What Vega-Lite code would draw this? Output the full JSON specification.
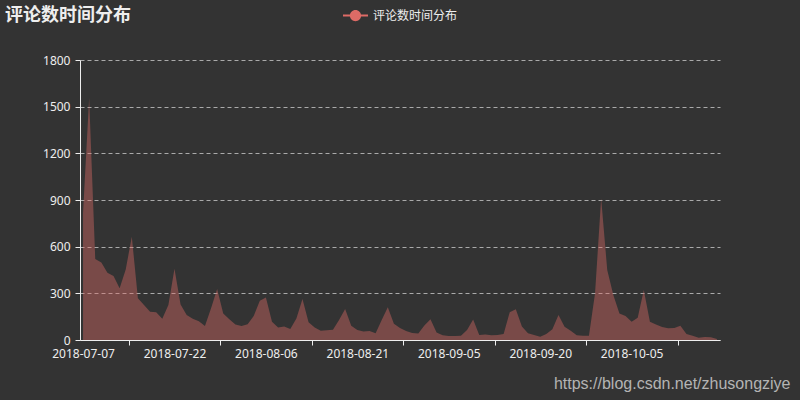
{
  "$schema": "https://vega.github.io/schema/vega-lite/v6.json",
  "width": 640,
  "height": 280,
  "autosize": "none",
  "padding": {"left": 80, "top": 60, "right": 80, "bottom": 60},
  "background": "#333333",
  "title": {
    "text": "评论数时间分布",
    "anchor": "start",
    "frame": "group",
    "dx": -75,
    "dy": 26,
    "fontSize": 18,
    "fontWeight": "bold",
    "color": "#eeeeee",
    "font": "Noto Sans CJK SC"
  },
  "data": {
    "values": [
      {"date": "2018-07-07", "count": 820}, {"date": "2018-07-08", "count": 1555}, {"date": "2018-07-09", "count": 521}, {"date": "2018-07-10", "count": 499}, {"date": "2018-07-11", "count": 433}, {"date": "2018-07-12", "count": 411}, {"date": "2018-07-13", "count": 332}, {"date": "2018-07-14", "count": 454}, {"date": "2018-07-15", "count": 664}, {"date": "2018-07-16", "count": 268}, {"date": "2018-07-17", "count": 225}, {"date": "2018-07-18", "count": 182}, {"date": "2018-07-19", "count": 178}, {"date": "2018-07-20", "count": 137}, {"date": "2018-07-21", "count": 225}, {"date": "2018-07-22", "count": 458}, {"date": "2018-07-23", "count": 229}, {"date": "2018-07-24", "count": 161}, {"date": "2018-07-25", "count": 137}, {"date": "2018-07-26", "count": 120}, {"date": "2018-07-27", "count": 90}, {"date": "2018-07-28", "count": 204}, {"date": "2018-07-29", "count": 328}, {"date": "2018-07-30", "count": 171}, {"date": "2018-07-31", "count": 133},
      {"date": "2018-08-01", "count": 100}, {"date": "2018-08-02", "count": 90}, {"date": "2018-08-03", "count": 101}, {"date": "2018-08-04", "count": 154}, {"date": "2018-08-05", "count": 253}, {"date": "2018-08-06", "count": 274}, {"date": "2018-08-07", "count": 118}, {"date": "2018-08-08", "count": 81}, {"date": "2018-08-09", "count": 86}, {"date": "2018-08-10", "count": 71}, {"date": "2018-08-11", "count": 139}, {"date": "2018-08-12", "count": 264}, {"date": "2018-08-13", "count": 114}, {"date": "2018-08-14", "count": 81}, {"date": "2018-08-15", "count": 60}, {"date": "2018-08-16", "count": 62}, {"date": "2018-08-17", "count": 66}, {"date": "2018-08-18", "count": 129}, {"date": "2018-08-19", "count": 199}, {"date": "2018-08-20", "count": 92}, {"date": "2018-08-21", "count": 64}, {"date": "2018-08-22", "count": 54}, {"date": "2018-08-23", "count": 58}, {"date": "2018-08-24", "count": 43}, {"date": "2018-08-25", "count": 129}, {"date": "2018-08-26", "count": 210}, {"date": "2018-08-27", "count": 105}, {"date": "2018-08-28", "count": 77}, {"date": "2018-08-29", "count": 58}, {"date": "2018-08-30", "count": 45}, {"date": "2018-08-31", "count": 41},
      {"date": "2018-09-01", "count": 94}, {"date": "2018-09-02", "count": 133}, {"date": "2018-09-03", "count": 49}, {"date": "2018-09-04", "count": 30}, {"date": "2018-09-05", "count": 26}, {"date": "2018-09-06", "count": 26}, {"date": "2018-09-07", "count": 28}, {"date": "2018-09-08", "count": 64}, {"date": "2018-09-09", "count": 131}, {"date": "2018-09-10", "count": 32}, {"date": "2018-09-11", "count": 36}, {"date": "2018-09-12", "count": 30}, {"date": "2018-09-13", "count": 32}, {"date": "2018-09-14", "count": 39}, {"date": "2018-09-15", "count": 178}, {"date": "2018-09-16", "count": 197}, {"date": "2018-09-17", "count": 86}, {"date": "2018-09-18", "count": 43}, {"date": "2018-09-19", "count": 32}, {"date": "2018-09-20", "count": 21}, {"date": "2018-09-21", "count": 39}, {"date": "2018-09-22", "count": 69}, {"date": "2018-09-23", "count": 160}, {"date": "2018-09-24", "count": 85}, {"date": "2018-09-25", "count": 59}, {"date": "2018-09-26", "count": 31}, {"date": "2018-09-27", "count": 27}, {"date": "2018-09-28", "count": 27}, {"date": "2018-09-29", "count": 300}, {"date": "2018-09-30", "count": 911},
      {"date": "2018-10-01", "count": 450}, {"date": "2018-10-02", "count": 289}, {"date": "2018-10-03", "count": 171}, {"date": "2018-10-04", "count": 154}, {"date": "2018-10-05", "count": 118}, {"date": "2018-10-06", "count": 143}, {"date": "2018-10-07", "count": 321}, {"date": "2018-10-08", "count": 118}, {"date": "2018-10-09", "count": 99}, {"date": "2018-10-10", "count": 84}, {"date": "2018-10-11", "count": 75}, {"date": "2018-10-12", "count": 77}, {"date": "2018-10-13", "count": 92}, {"date": "2018-10-14", "count": 39}, {"date": "2018-10-15", "count": 28}, {"date": "2018-10-16", "count": 15}, {"date": "2018-10-17", "count": 19}, {"date": "2018-10-18", "count": 17}, {"date": "2018-10-19", "count": 6}
    ]
  },
  "mark": {"type": "area", "interpolate": "linear", "fillOpacity": 0.41},
  "encoding": {
    "x": {
      "field": "date",
      "type": "temporal",
      "scale": {
        "type": "utc",
        "domain": [
          {"year": 2018, "month": 7, "date": 6, "hours": 12, "utc": true},
          {"year": 2018, "month": 10, "date": 19, "hours": 12, "utc": true}
        ]
      },
      "axis": {
        "values": [
          {"year": 2018, "month": 7, "date": 7, "utc": true},
          {"year": 2018, "month": 7, "date": 22, "utc": true},
          {"year": 2018, "month": 8, "date": 6, "utc": true},
          {"year": 2018, "month": 8, "date": 21, "utc": true},
          {"year": 2018, "month": 9, "date": 5, "utc": true},
          {"year": 2018, "month": 9, "date": 20, "utc": true},
          {"year": 2018, "month": 10, "date": 5, "utc": true}
        ],
        "format": "%Y-%m-%d",
        "tickOffset": 46,
        "labelOffset": -46,
        "tickSize": 5,
        "labelPadding": 3,
        "labelFlush": false,
        "labelOverlap": false,
        "grid": false,
        "title": "https://blog.csdn.net/zhusongziye",
        "titleFont": "Liberation Sans",
        "titleFontSize": 16,
        "titleFontWeight": "normal",
        "titleColor": "#b4b4b4",
        "titleAnchor": "end",
        "titleAlign": "right",
        "titleBaseline": "alphabetic",
        "titleX": 710,
        "titleY": 48
      }
    },
    "y": {
      "field": "count",
      "type": "quantitative",
      "scale": {"domain": [0, 1800], "nice": false},
      "axis": {
        "values": [0, 300, 600, 900, 1200, 1500, 1800],
        "format": "d",
        "title": null,
        "grid": true,
        "gridColor": "#aaaaaa",
        "gridDash": [4, 3],
        "gridWidth": 1,
        "tickSize": 5,
        "labelPadding": 5
      }
    },
    "color": {
      "datum": "评论数时间分布",
      "scale": {"range": ["#dd6b66"]},
      "legend": {
        "title": null,
        "orient": "none",
        "legendX": 263,
        "legendY": -57,
        "symbolType": "M-1,-0.08H1V0.08H-1Z M-0.45,0A0.45,0.45 0 1,1 0.45,0A0.45,0.45 0 1,1 -0.45,0Z",
        "symbolSize": 625,
        "symbolOpacity": 1,
        "symbolStrokeWidth": 0,
        "labelColor": "#eeeeee",
        "labelFontSize": 12,
        "labelFont": "Noto Sans CJK SC",
        "labelOffset": 5
      }
    }
  },
  "config": {
    "font": "Noto Sans CJK SC",
    "view": {"stroke": null},
    "axis": {
      "domainColor": "#eeeeee",
      "tickColor": "#eeeeee",
      "labelColor": "#eeeeee",
      "labelFontSize": 12,
      "labelFont": "Noto Sans",
      "domainWidth": 1
    }
  }
}
